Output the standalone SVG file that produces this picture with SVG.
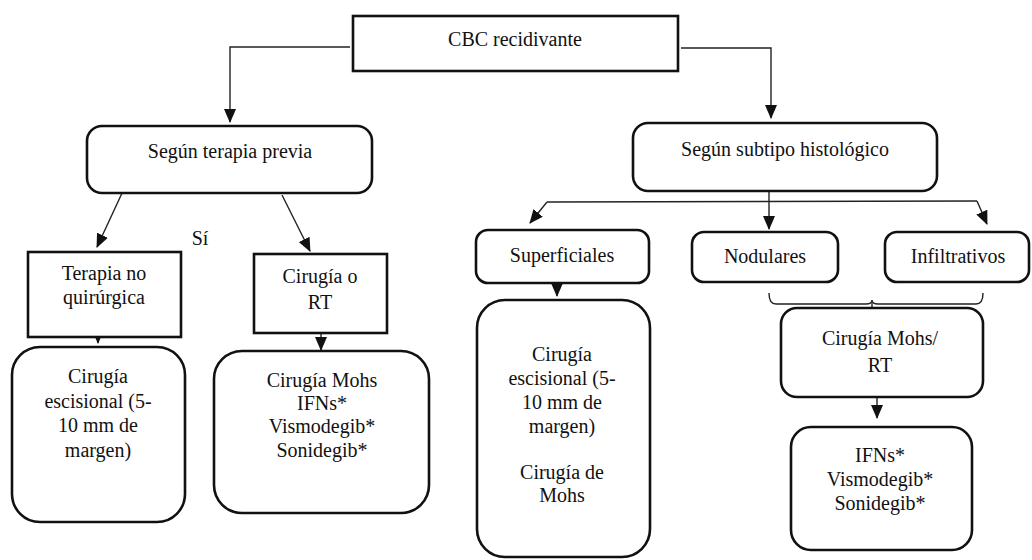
<svg xmlns="http://www.w3.org/2000/svg" width="1032" height="560" viewBox="0 0 1032 560">
<defs>
<style>
.box{fill:#fff;stroke:#111;stroke-width:2.6}
.t{font-size:20px;fill:#111;text-anchor:middle}
.c{fill:none;stroke:#222;stroke-width:1.4}
</style>
<marker id="ah" markerUnits="userSpaceOnUse" markerWidth="14" markerHeight="12" viewBox="0 0 14 12" refX="13" refY="6" orient="auto">
<path d="M0,0 L14,6 L0,12 Z" fill="#111"/>
</marker>
</defs>
<rect width="1032" height="560" fill="#fff"/>
<g id="connectors">
<polyline class="c" points="350,47 230,47 230,122" marker-end="url(#ah)"/>
<polyline class="c" points="681,48 771,48 771,118" marker-end="url(#ah)"/>
<line class="c" x1="123" y1="191" x2="97" y2="247" marker-end="url(#ah)"/>
<line class="c" x1="282" y1="195" x2="310" y2="251" marker-end="url(#ah)"/>
<line class="c" x1="98" y1="323" x2="98" y2="343" marker-end="url(#ah)"/>
<line class="c" x1="321" y1="327" x2="321" y2="350" marker-end="url(#ah)"/>
<line class="c" x1="547" y1="202" x2="977" y2="201"/>
<line class="c" x1="769" y1="191" x2="769" y2="229" marker-end="url(#ah)"/>
<line class="c" x1="547" y1="202" x2="530" y2="223" marker-end="url(#ah)"/>
<line class="c" x1="977" y1="201" x2="987" y2="224" marker-end="url(#ah)"/>
<line class="c" x1="557" y1="275" x2="557" y2="296" marker-end="url(#ah)"/>
<path class="c" d="M769,293 Q769,304 776,304 L866,304 Q872,304 872,300 Q872,304 878,304 L976,304 Q983,304 983,293"/>
<line class="c" x1="872" y1="303" x2="872" y2="323"/>
<line class="c" x1="877" y1="397" x2="877" y2="418" marker-end="url(#ah)"/>
</g>
<g font-family="Liberation Serif, Times New Roman, serif">
<g id="n-cbc">
<rect class="box" x="353" y="16" width="325" height="55" stroke-width="3"/>
<text class="t" x="515" y="46">CBC recidivante</text>
</g>
<g id="n-terapia-previa">
<rect class="box" x="87" y="126" width="285" height="67" rx="15"/>
<text class="t" x="230" y="158">Según terapia previa</text>
</g>
<g id="n-subtipo">
<rect class="box" x="633" y="123" width="304" height="68" rx="15"/>
<text class="t" x="785" y="156">Según subtipo histológico</text>
</g>
<g id="lbl-si">
<text class="t" x="200" y="245">Sí</text>
</g>
<g id="n-no-quirurgica">
<rect class="box" x="28" y="252" width="153" height="85" stroke-width="3"/>
<text class="t" x="104" y="280">Terapia no</text>
<text class="t" x="104" y="304">quirúrgica</text>
</g>
<g id="n-cirugia-rt">
<rect class="box" x="254" y="254" width="133" height="79" stroke-width="3"/>
<text class="t" x="320" y="283">Cirugía o</text>
<text class="t" x="320" y="309">RT</text>
</g>
<g id="n-escisional-left">
<rect class="box" x="12" y="347" width="173" height="175" rx="28"/>
<text class="t" x="98" y="383">Cirugía</text>
<text class="t" x="98" y="408">escisional (5-</text>
<text class="t" x="98" y="432">10 mm de</text>
<text class="t" x="98" y="457">margen)</text>
</g>
<g id="n-mohs-list">
<rect class="box" x="214" y="351" width="215" height="162" rx="28"/>
<text class="t" x="322" y="387">Cirugía Mohs</text>
<text class="t" x="322" y="410">IFNs*</text>
<text class="t" x="322" y="433">Vismodegib*</text>
<text class="t" x="322" y="457">Sonidegib*</text>
</g>
<g id="n-superficiales">
<rect class="box" x="476" y="230" width="173" height="53" rx="12"/>
<text class="t" x="562" y="262">Superficiales</text>
</g>
<g id="n-nodulares">
<rect class="box" x="692" y="232" width="146" height="50" rx="12"/>
<text class="t" x="765" y="263">Nodulares</text>
</g>
<g id="n-infiltrativos">
<rect class="box" x="885" y="232" width="144" height="50" rx="12"/>
<text class="t" x="958" y="263">Infiltrativos</text>
</g>
<g id="n-escisional-right">
<rect class="box" x="477" y="300" width="173" height="257" rx="28"/>
<text class="t" x="562" y="361">Cirugía</text>
<text class="t" x="562" y="385">escisional (5-</text>
<text class="t" x="562" y="409">10 mm de</text>
<text class="t" x="562" y="433">margen)</text>
<text class="t" x="562" y="479">Cirugía de</text>
<text class="t" x="562" y="502">Mohs</text>
</g>
<g id="n-mohs-rt">
<rect class="box" x="781" y="308" width="202" height="89" rx="16"/>
<text class="t" x="880" y="345">Cirugía Mohs/</text>
<text class="t" x="880" y="372">RT</text>
</g>
<g id="n-ifns">
<rect class="box" x="791" y="427" width="181" height="123" rx="20"/>
<text class="t" x="880" y="462">IFNs*</text>
<text class="t" x="880" y="486">Vismodegib*</text>
<text class="t" x="880" y="510">Sonidegib*</text>
</g>
</g>
</svg>
